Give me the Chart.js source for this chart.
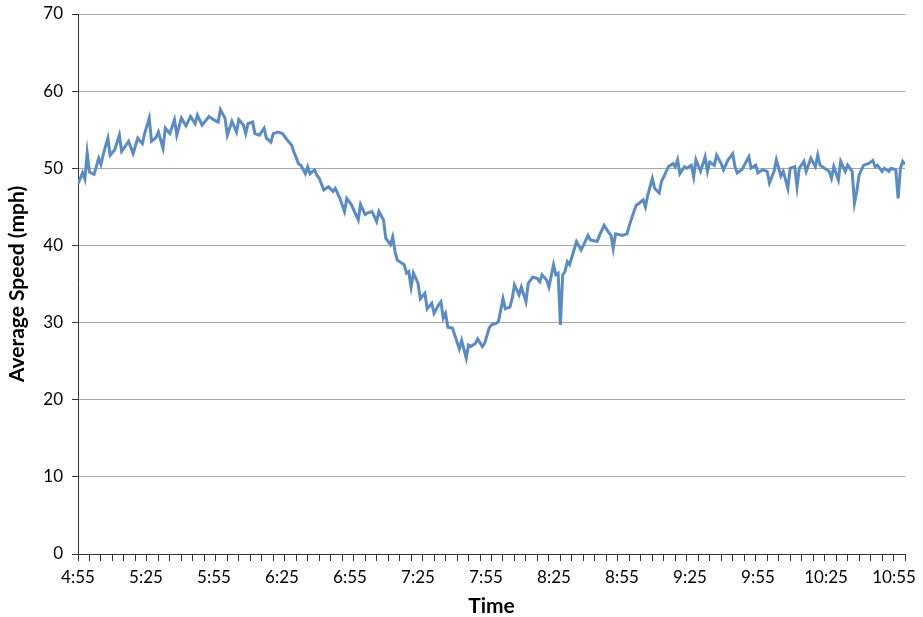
<!DOCTYPE html>
<html>
<head>
<meta charset="utf-8">
<script src="https://cdn.jsdelivr.net/npm/chart.js@4/dist/chart.umd.min.js"></script>
<style>
html,body{margin:0;padding:0;background:#fff;}
#wrap{width:923px;height:617px;position:relative;}
</style>
</head>
<body>
<div id="wrap"><canvas id="c" width="923" height="617"></canvas></div>
<script>
// minutes after 4:55
const minutes = [0,2,3,4,5,7,9,10,11,13,14,16,18,19,20,22,24,26,28,29,31,32,34,35,37,38,40,42,43,45,47,49,51,52,54,57,59,61,62,64,65,67,69,70,72,73,74,76,77,79,81,82,84,85,87,89,91,93,94,96,97,99,100,101,103,104,105,107,109,111,112,114,116,117,119,122,123,125,126,128,130,131,133,134,136,137,138,139,140,142,143,144,145,146,148,149,151,152,154,155,157,158,159,160,161,163,164,166,167,169,170,171,173,174,176,177,179,180,182,183,185,186,188,189,190,192,193,195,196,198,200,201,202,204,205,207,208,209,210,211,212,213,214,215,217,219,220,222,223,226,227,229,231,232,233,234,237,239,240,242,243,244,246,247,248,250,251,253,254,255,257,259,260,261,262,264,265,267,268,269,271,273,274,275,277,278,280,281,283,285,286,287,289,292,293,295,296,298,300,301,303,304,306,307,309,310,312,313,314,316,317,319,321,322,323,325,327,328,329,331,332,334,335,337,338,339,340,342,344,346,347,348,350,351,353,354,356,357,358,359,360];
const speed = [48.0,49.4,48.6,52.0,49.5,49.2,51.3,50.5,51.8,53.9,51.7,52.4,54.3,52.2,52.6,53.5,51.9,53.9,53.2,54.5,56.5,53.5,54.0,54.7,52.6,55.2,54.5,56.3,54.3,56.5,55.5,56.7,55.8,56.9,55.6,56.7,56.3,56.0,57.6,56.5,54.3,56.1,54.7,56.3,55.6,54.5,55.8,56.0,54.5,54.3,55.2,53.9,53.4,54.5,54.7,54.5,53.7,53.0,52.1,50.6,50.4,49.3,50.2,49.3,49.8,49.1,48.7,47.2,47.6,47.0,47.4,46.1,44.4,46.1,45.3,43.3,45.3,44.0,44.2,44.4,43.1,44.4,43.3,40.9,40.1,41.1,39.2,38.1,37.9,37.5,36.4,36.6,34.6,36.4,35.1,33.1,33.8,31.8,32.5,31.2,32.3,32.7,30.6,31.2,29.4,29.3,28.4,26.6,27.7,25.4,27.1,26.9,27.3,27.9,26.9,27.3,29.3,29.7,29.9,30.1,33.1,31.8,32.0,33.1,34.9,33.6,34.6,32.7,35.1,35.9,35.7,35.3,36.2,35.5,34.6,37.5,36.2,36.4,29.7,36.2,36.6,37.9,37.5,38.5,40.5,39.4,40.0,41.3,40.7,40.5,41.3,42.6,41.7,41.3,39.6,41.5,41.3,41.5,42.6,44.4,45.2,45.4,45.9,45.0,46.5,48.7,47.4,46.8,48.3,48.9,50.2,50.6,50.2,51.1,49.3,50.2,50.0,50.4,48.9,51.1,49.6,51.5,49.6,50.8,50.4,51.7,50.6,49.8,51.1,51.9,50.2,49.4,49.8,51.5,50.0,50.4,49.4,49.8,49.6,48.1,49.6,51.1,49.0,49.6,47.4,50.0,50.2,47.6,50.0,50.9,49.6,51.3,50.2,51.7,50.4,50.0,49.6,48.7,50.2,48.5,50.9,49.6,50.4,49.6,45.5,47.0,49.1,50.4,50.6,51.0,50.2,50.4,49.6,50.0,49.6,50.0,49.8,46.1,50.0,50.9,50.5];
const tickLabels = ['4:55','5:25','5:55','6:25','6:55','7:25','7:55','8:25','8:55','9:25','9:55','10:25','10:55'];
const yTicks = [0,10,20,30,40,50,60,70];

const FONT = 'Lato, "Open Sans", sans-serif';
const points = minutes.map((m, i) => ({x: m, y: speed[i]}));

// Nudge x tick labels slightly left toward the right end (as in the reference layout)
const labelNudge = {
  id: 'labelNudge',
  beforeDraw(chart) {
    const s = chart.scales.x;
    const items = s.getLabelItems();
    if (items._nudged) return;
    items.forEach((it, i) => {
      const v = s.ticks[i] ? s.ticks[i].value : 0;
      it.options.translation[0] -= 11 * v / 360;
    });
    items._nudged = true;
  }
};

new Chart(document.getElementById('c'), {
  type: 'line',
  data: {
    datasets: [{
      data: points,
      borderColor: '#5A8BC5',
      borderWidth: 3,
      pointRadius: 0,
      tension: 0,
      fill: false
    }]
  },
  options: {
    responsive: false,
    animation: false,
    layout: {padding: {top: 14, right: 18, bottom: 0, left: 0}},
    plugins: {legend: {display: false}, tooltip: {enabled: false}},
    scales: {
      x: {
        type: 'linear',
        min: 0,
        max: 360,
        grid: {drawOnChartArea: false, drawTicks: true, tickLength: 7, color: '#333', tickColor: '#333'},
        border: {color: '#333', width: 1},
        ticks: {
          stepSize: 5,
          autoSkip: false,
          maxRotation: 0,
          minRotation: 0,
          padding: 6,
          color: '#000',
          font: {family: FONT, size: 17},
          callback: (v) => (v % 30 === 0 ? tickLabels[v / 30] : '')
        },
        title: {display: true, text: 'Time', color: '#000', font: {family: FONT, size: 21, weight: 'bold', lineHeight: 1}, padding: {top: 0, bottom: 0}},
        afterFit: (s) => { s.height = 63; s.paddingLeft = 0; s.paddingRight = 0; }
      },
      y: {
        min: 0,
        max: 70,
        afterBuildTicks: (s) => { s.ticks = yTicks.map(v => ({value: v})); },
        grid: {color: '#A8A8A8', tickColor: '#333', tickLength: 6, lineWidth: 1},
        border: {color: '#333', width: 1},
        ticks: {padding: 9, color: '#000', font: {family: FONT, size: 17}},
        title: {display: true, text: 'Average Speed (mph)', color: '#000', font: {family: FONT, size: 21, weight: 'bold'}, padding: {top: 5, bottom: 0}},
        afterFit: (s) => { s.width = 78; s.paddingTop = 0; s.paddingBottom = 0; }
      }
    }
  },
  plugins: [labelNudge]
});
</script>
</body>
</html>
